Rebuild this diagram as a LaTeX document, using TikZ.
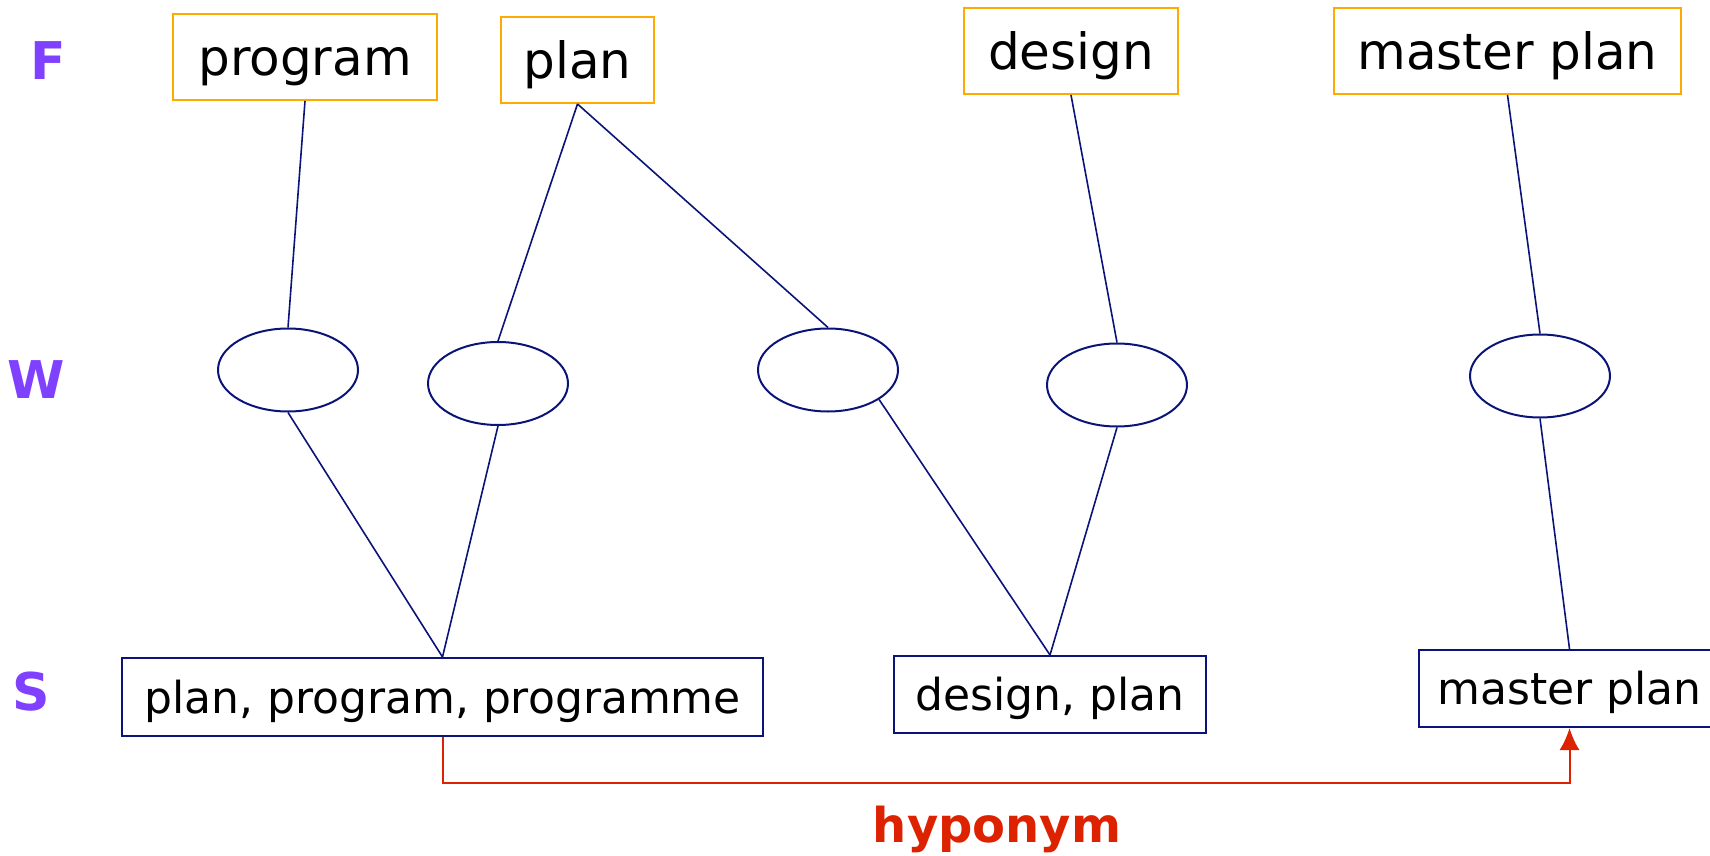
\documentclass[tikz,border=0pt]{standalone}
\usepackage{fontspec}
\setmainfont{DejaVu Sans}
\usetikzlibrary{arrows.meta,shapes.geometric}
\definecolor{fbox}{HTML}{FFAA00}
\definecolor{navy}{HTML}{0A1478}
\definecolor{lvl}{HTML}{7F40FF}
\definecolor{hyp}{HTML}{DD2200}
\tikzset{
  formbox/.style={draw=fbox, line width=2pt, inner sep=0pt, font=\fontsize{50}{60}\selectfont, text height=43pt, text depth=6pt, minimum height=86pt},
  synbox/.style={draw=navy, line width=2pt, inner sep=0pt, font=\fontsize{44}{52}\selectfont, text height=38pt, text depth=5.5pt},
  wordell/.style={draw=navy, line width=2pt, ellipse, inner sep=0pt, minimum width=140pt, minimum height=83pt},
  lvlabel/.style={text=lvl, font=\fontsize{52}{60}\selectfont\bfseries, inner sep=0pt},
  link/.style={draw=navy, line width=1.6pt},
  hyparrow/.style={draw=hyp, line width=2pt, -{Latex[length=22pt,width=20pt]}}
}
\begin{document}
\begin{tikzpicture}[x=1pt,y=-1pt]
\useasboundingbox (0,0) rectangle (1710,856);
% level labels
\node[lvlabel] (lf) at (48,61) {F};
\node[lvlabel] (lw) at (36,380) {W};
\node[lvlabel] (ls) at (31,692) {S};
% form boxes
\node[formbox, minimum width=264pt] (fprog) at (305,57) {program};
\node[formbox, minimum width=153pt] (fplan) at (577.5,60) {plan};
\node[formbox, minimum width=214pt] (fdes) at (1071,51) {design};
\node[formbox, minimum width=347pt] (fmp) at (1507.5,51) {master plan};
% word ellipses
\node[wordell] (e1) at (288,370) {};
\node[wordell] (e2) at (498,383.5) {};
\node[wordell] (e3) at (828,370) {};
\node[wordell] (e4) at (1117,385) {};
\node[wordell] (e5) at (1540,376) {};
% synsets
\node[synbox, minimum width=641pt, minimum height=78pt] (s1) at (442.5,697) {plan, program, programme};
\node[synbox, minimum width=312pt, minimum height=77pt] (s2) at (1050,694.5) {design, plan};
\node[synbox, minimum width=301pt, minimum height=77pt] (s3) at (1569.5,688.5) {master plan};
% links form - word
\draw[link] (fprog.south) -- (e1.north);
\draw[link] (fplan.south) -- (e2.north);
\draw[link] (fplan.south) -- (e3.north);
\draw[link] (fdes.south) -- (e4.north);
\draw[link] (fmp.south) -- (e5.north);
% links word - synset
\draw[link] (e1.south) -- (s1.north);
\draw[link] (e2.south) -- (s1.north);
\draw[link] (e3.-30) -- (s2.north);
\draw[link] (e4.south) -- (s2.north);
\draw[link] (e5.south) -- (s3.north);
% hyponym relation
\coordinate (hy) at (1000,783);
\draw[hyparrow] (s1.south) |- (hy) -| (s3.south);
\node[text=hyp, font=\fontsize{48}{56}\selectfont\bfseries, inner sep=0pt] (hlab) at (997,829) {hyponym};
\end{tikzpicture}
\end{document}
